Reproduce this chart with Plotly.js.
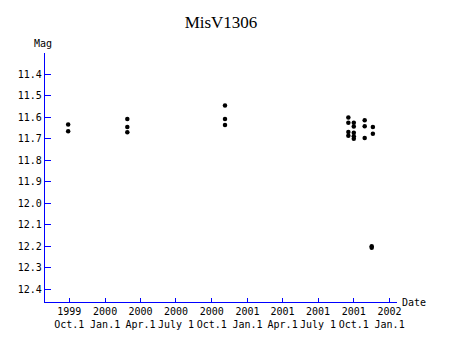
<!DOCTYPE html>
<html>
<head>
<meta charset="utf-8">
<script src="https://cdn.plot.ly/plotly-3.0.1.min.js"></script>
<style>html,body{margin:0;padding:0;background:#fff;}#chart{width:450px;height:340px;}</style>
</head>
<body>
<div id="chart"></div>
<script>
// Observation dates and magnitudes of MisV1306
var obsDates = [
  '1999-09-28','1999-09-28',
  '2000-02-27','2000-02-27','2000-02-27',
  '2000-11-04','2000-11-04','2000-11-04',
  '2001-09-17','2001-09-17','2001-09-17','2001-09-17',
  '2001-10-01','2001-10-01','2001-10-01','2001-10-01','2001-10-01',
  '2001-10-29','2001-10-29','2001-10-29',
  '2001-11-19','2001-11-19',
  '2001-11-16','2001-11-16'
];
var obsMags = [
  11.633, 11.665,
  11.608, 11.645, 11.669,
  11.545, 11.607, 11.635,
  11.600, 11.625, 11.668, 11.685,
  11.625, 11.642, 11.672, 11.688, 11.700,
  11.613, 11.641, 11.696,
  11.645, 11.676,
  12.200, 12.207
];
var xTickDates = ['1999-10-01','2000-01-01','2000-04-01','2000-07-01','2000-10-01',
                  '2001-01-01','2001-04-01','2001-07-01','2001-10-01','2002-01-01'];
var xTickYears = ['1999','2000','2000','2000','2000','2001','2001','2001','2001','2002'];
var xTickDays  = ['Oct.1','Jan.1','Apr.1','July 1','Oct.1','Jan.1','Apr.1','July 1','Oct.1','Jan.1'];
var yTickVals = [11.4,11.5,11.6,11.7,11.8,11.9,12.0,12.1,12.2,12.3,12.4];

var tickFont = {family: 'DejaVu Sans Mono, monospace', size: 10, color: '#000'};

var trace = {
  x: obsDates, y: obsMags, type: 'scatter', mode: 'markers',
  marker: {color: '#000', size: 4.5, symbol: 'circle'},
  hoverinfo: 'none', showlegend: false
};

var layout = {
  width: 450, height: 340,
  margin: {l: 45, r: 53, t: 53, b: 38},
  paper_bgcolor: '#fff', plot_bgcolor: '#fff',
  title: {text: 'MisV1306', font: {family: 'Liberation Serif, serif', size: 17, color: '#000'},
          x: 0.5, xref: 'paper', xanchor: 'center', y: 1 - 22/340, yref: 'container', yanchor: 'middle'},
  xaxis: {
    type: 'date', range: ['1999-07-30 12:00', '2002-01-20'],
    tickmode: 'array', tickvals: xTickDates,
    ticktext: xTickDates.map(function(d, i){ return xTickYears[i] + '<br>' + xTickDays[i]; }),
    ticks: 'inside', ticklen: 4, tickcolor: '#0000ff', tickwidth: 1,
    showline: true, linecolor: '#0000ff', linewidth: 1.2,
    showgrid: false, zeroline: false, tickfont: tickFont, tickangle: 0
  },
  yaxis: {
    range: [12.46, 11.30], tickmode: 'array', tickvals: yTickVals,
    ticktext: yTickVals.map(function(v){ return v.toFixed(1); }),
    ticks: 'inside', ticklen: 6, tickcolor: '#0000ff', tickwidth: 1,
    showline: true, linecolor: '#0000ff', linewidth: 1.2,
    showgrid: false, zeroline: false, tickfont: tickFont
  },
  annotations: [
    {text: 'Mag', xref: 'paper', yref: 'paper', x: 0, y: 1, xshift: -2, yshift: 10,
     xanchor: 'center', yanchor: 'middle', showarrow: false, font: tickFont},
    {text: 'Date', xref: 'paper', yref: 'paper', x: 1, y: 0, xshift: 3,
     xanchor: 'left', yanchor: 'middle', showarrow: false, font: tickFont}
  ]
};

Plotly.newPlot('chart', [trace], layout, {displayModeBar: false, staticPlot: true});
</script>
</body>
</html>
